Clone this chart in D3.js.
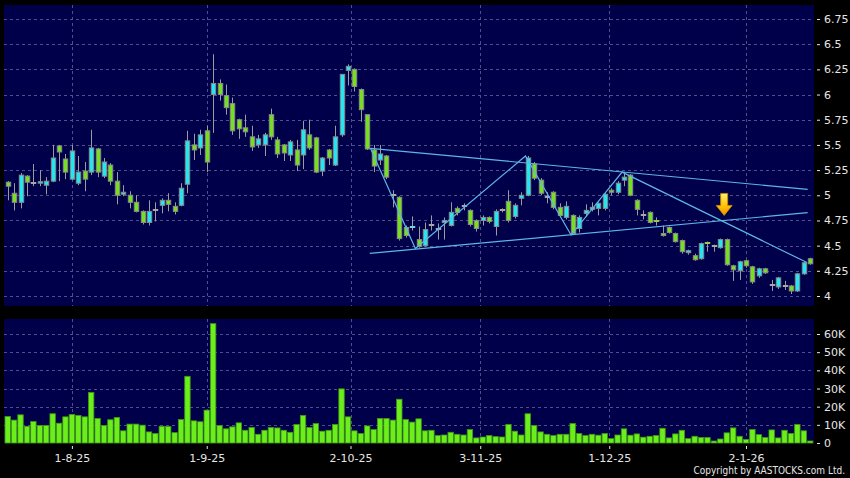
<!DOCTYPE html>
<html><head><meta charset="utf-8">
<script src="https://cdn.jsdelivr.net/npm/d3@7/dist/d3.min.js"></script>
<style>html,body{margin:0;padding:0;background:#000;}svg{display:block;}</style>
</head><body><svg id="c" width="850" height="478"></svg>
<script>
// ---- data ----
const opens  = [5.13,5.02,4.93,5.19,5.12,5.12,5.10,5.14,5.49,5.36,5.16,5.12,5.24,5.23,5.46,5.19,5.30,5.14,5.01,5.00,
 4.93,4.84,4.73,4.85,4.90,4.95,4.89,4.90,5.11,5.50,5.47,5.64,6.00,6.11,5.99,5.91,5.75,5.67,5.58,5.50,
 5.50,5.80,5.55,5.50,5.40,5.45,5.40,5.60,5.57,5.24,5.45,5.30,5.60,6.24,6.25,6.05,5.80,5.45,5.35,5.39,
 5.00,4.98,4.68,4.68,4.56,4.50,4.70,4.67,4.73,4.70,4.87,4.89,4.85,4.75,4.75,4.78,4.69,4.85,4.94,4.79,
 4.97,5.00,5.31,5.15,4.98,5.03,4.88,4.78,4.80,4.67,4.82,4.86,4.87,4.87,5.05,5.03,5.15,5.20,4.95,4.80,
 4.83,4.75,4.62,4.68,4.62,4.55,4.43,4.40,4.37,4.53,4.50,4.48,4.56,4.30,4.25,4.35,4.29,4.20,4.27,4.11,
 4.09,4.10,4.10,4.05,4.22,4.37];
const highs  = [5.14,5.12,5.22,5.20,5.31,5.25,5.18,5.50,5.50,5.41,5.50,5.39,5.33,5.65,5.47,5.37,5.32,5.23,5.10,5.04,
 5.00,4.85,4.95,4.93,4.97,5.02,4.93,5.12,5.64,5.61,5.65,5.69,6.40,6.15,6.10,5.97,5.76,5.80,5.69,5.60,
 5.62,5.86,5.58,5.51,5.55,5.55,5.74,5.75,5.58,5.38,5.46,5.69,6.20,6.30,6.26,6.06,5.80,5.50,5.50,5.40,
 5.05,4.99,4.70,4.79,4.69,4.73,4.80,4.72,4.78,4.93,4.89,4.92,4.86,4.76,4.80,4.79,4.86,4.87,5.05,4.92,
 5.03,5.39,5.33,5.17,5.03,5.04,4.92,4.94,4.81,4.80,4.91,4.93,4.93,5.02,5.07,5.14,5.23,5.21,4.96,4.85,
 4.84,4.78,4.70,4.69,4.63,4.56,4.46,4.42,4.53,4.54,4.51,4.57,4.57,4.31,4.35,4.36,4.30,4.28,4.28,4.16,
 4.19,4.15,4.11,4.23,4.34,4.38];
const lows   = [4.95,4.85,4.87,4.99,5.09,5.09,5.01,5.13,5.14,5.16,5.15,5.10,5.04,5.20,5.18,5.17,5.10,4.91,4.99,4.87,
 4.83,4.71,4.70,4.74,4.82,4.84,4.81,4.89,5.02,5.35,5.40,5.23,5.62,5.94,5.80,5.60,5.56,5.58,5.44,5.47,
 5.39,5.55,5.37,5.34,5.34,5.24,5.26,5.45,5.22,5.19,5.30,5.29,5.58,6.09,6.03,5.73,5.45,5.23,5.30,5.16,
 4.88,4.55,4.58,4.65,4.48,4.49,4.65,4.56,4.56,4.69,4.80,4.85,4.69,4.64,4.70,4.72,4.60,4.83,4.73,4.77,
 4.90,4.99,5.15,5.00,4.92,4.86,4.78,4.76,4.61,4.63,4.79,4.84,4.80,4.85,5.00,5.01,5.09,4.99,4.80,4.76,
 4.72,4.70,4.59,4.62,4.53,4.42,4.41,4.35,4.36,4.44,4.44,4.47,4.30,4.15,4.16,4.28,4.12,4.18,4.22,4.05,
 4.07,4.06,4.02,4.04,4.21,4.31];
const closes = [5.09,4.93,5.20,5.13,5.12,5.135,5.14,5.37,5.43,5.23,5.44,5.23,5.16,5.47,5.23,5.33,5.14,5.00,5.03,4.93,
 4.84,4.73,4.84,4.85,4.95,4.91,4.84,5.07,5.54,5.45,5.60,5.33,6.11,6.00,5.87,5.64,5.66,5.63,5.48,5.56,
 5.60,5.58,5.41,5.42,5.53,5.30,5.65,5.47,5.23,5.37,5.37,5.58,6.20,6.28,6.08,5.85,5.46,5.29,5.41,5.18,
 5.00,4.57,4.60,4.69,4.49,4.66,4.70,4.67,4.75,4.83,4.83,4.89,4.71,4.67,4.78,4.74,4.84,4.85,4.75,4.90,
 5.00,5.37,5.17,5.02,4.98,4.88,4.80,4.89,4.62,4.78,4.85,4.88,4.92,5.01,5.03,5.12,5.18,5.00,4.86,4.80,
 4.73,4.74,4.60,4.63,4.54,4.44,4.45,4.36,4.52,4.52,4.50,4.56,4.31,4.26,4.34,4.30,4.14,4.27,4.23,4.11,
 4.18,4.10,4.05,4.22,4.33,4.32];
const volumes = [14600,12600,15500,9200,11800,9600,9600,16100,10900,14400,15700,15200,14400,27800,13500,9600,12800,14100,6700,10400,
 10400,9800,6100,5200,9200,9100,5700,12900,36700,12200,11700,18100,65700,9600,7800,8900,11100,7000,8500,4800,
 7000,8500,8300,7000,5900,10200,15200,8500,10700,6500,7000,10200,29800,14400,6700,5200,9400,7400,13500,13500,
 12600,24100,12900,11500,13300,6700,7000,4100,4400,5900,4800,4400,7400,2800,3300,4100,3500,3300,10200,6500,
 4400,16100,9600,6100,4800,4100,4800,4800,10700,5200,4100,4800,4300,5200,2400,4400,7800,4300,5000,3200,
 3700,4100,8100,2800,5000,7000,2400,3700,3000,3000,1100,2200,5600,8300,3700,1900,7400,4600,3000,7200,
 2800,7000,5200,10200,6700,1100];
const priceTicks = [4,4.25,4.5,4.75,5,5.25,5.5,5.75,6,6.25,6.5,6.75];
const priceTickLabels = ["4","4.25","4.5","4.75","5","5.25","5.5","5.75","6","6.25","6.5","6.75"];
const volumeTicks = [0,10000,20000,30000,40000,50000,60000];
const volumeTickLabels = ["0","10K","20K","30K","40K","50K","60K"];
const dateTickIndex = [10,31,53.4,73.6,93.7,115];
const dateTickLabels = ["1-8-25","1-9-25","2-10-25","3-11-25","1-12-25","2-1-26"];
// drawn annotations: [candle index, price]
const trendUpper = [[56.5,5.466],[124.6,5.059]];
const trendLower = [[56.4,4.423],[124.6,4.827]];
const zigzag = [[56.5,5.466],[63.5,4.471],[80.65,5.39],[87.75,4.605],[95.7,5.23],[124.5,4.332]];
const arrowTip = [111.6,4.80];

// ---- drawing ----
const svg = d3.select("#c");
const NAVY = "#00004a", GRID = "#4e4e8a", TXT = "#e6e6e6";
const n = closes.length;
const x = d3.scaleLinear().domain([0, n-1]).range([7.7, 810.2]);
const yP = d3.scaleLinear().domain([4, 6.75]).range([296, 19]);
const yV = d3.scaleLinear().domain([0, 60000]).range([443, 334]);

svg.append("rect").attr("width",850).attr("height",478).attr("fill","#000");
svg.append("rect").attr("x",4).attr("y",5).attr("width",810).attr("height",301).attr("fill",NAVY);
svg.append("rect").attr("x",4).attr("y",319).attr("width",810).attr("height",124).attr("fill",NAVY);

const grid = svg.append("g").attr("stroke",GRID).attr("stroke-dasharray","3,3").attr("stroke-width",1);
priceTicks.forEach(v=>{const yy=Math.round(yP(v))+0.5;grid.append("line").attr("x1",4).attr("x2",814).attr("y1",yy).attr("y2",yy);});
volumeTicks.slice(1).forEach(v=>{const yy=Math.round(yV(v))+0.5;grid.append("line").attr("x1",4).attr("x2",814).attr("y1",yy).attr("y2",yy);});
dateTickIndex.forEach(i=>{const xx=Math.round(x(i))+0.5;
  grid.append("line").attr("x1",xx).attr("x2",xx).attr("y1",5).attr("y2",306);
  grid.append("line").attr("x1",xx).attr("x2",xx).attr("y1",319).attr("y2",443);});

// volume bars
svg.append("g").selectAll("rect").data(volumes).join("rect")
  .attr("x",(d,i)=>x(i)-2.7).attr("width",5.4)
  .attr("y",d=>yV(d)).attr("height",d=>yV(0)-yV(d))
  .attr("fill","#6cee1c").attr("stroke","#3e9a12").attr("stroke-width",0.8);

// candles
const cg = svg.append("g");
d3.range(n).forEach(i=>{
  const cx = Math.round(x(i));
  const o=opens[i], c=closes[i];
  cg.append("line").attr("x1",cx+0.5).attr("x2",cx+0.5)
    .attr("y1",yP(highs[i])).attr("y2",yP(lows[i])).attr("stroke","#9c9c9c").attr("stroke-width",1);
  const top = yP(Math.max(o,c)), bot = yP(Math.min(o,c));
  if (bot-top < 1.5) {
    const col = Math.abs(o-c)<0.004 ? "#a8a8a8" : (c>o ? "#6fd8e0" : "#8fce50");
    cg.append("rect").attr("x",cx-2.2).attr("width",5.4).attr("y",Math.round((top+bot)/2)-1).attr("height",2).attr("fill",col);
  } else {
    cg.append("rect").attr("x",cx-1.7).attr("width",4.4)
      .attr("y",top).attr("height",bot-top)
      .attr("fill", c>o ? "#22e6f2" : "#76e01e").attr("stroke","#8a8a8a").attr("stroke-width",1);
  }
});

// annotations
const line = d3.line().x(d=>x(d[0])).y(d=>yP(d[1]));
const ag = svg.append("g").attr("fill","none").attr("stroke","#5cb6e8").attr("stroke-width",1.2);
[trendUpper, trendLower, zigzag].forEach(p=>ag.append("path").attr("d",line(p)));

const defs = svg.append("defs");
const gr = defs.append("linearGradient").attr("id","ag").attr("x1",0).attr("y1",0).attr("x2",0).attr("y2",1);
gr.append("stop").attr("offset","0%").attr("stop-color","#fff070");
gr.append("stop").attr("offset","60%").attr("stop-color","#ffc000");
gr.append("stop").attr("offset","100%").attr("stop-color","#f09000");
const tx = x(arrowTip[0]), ty = yP(arrowTip[1]);
svg.append("path")
  .attr("d",`M${tx-3.5},${ty-22} L${tx+3.5},${ty-22} L${tx+3.5},${ty-10} L${tx+8},${ty-10} L${tx},${ty} L${tx-8},${ty-10} L${tx-3.5},${ty-10} Z`)
  .attr("fill","url(#ag)").attr("stroke","#c88a00").attr("stroke-width",0.8);

// axes
function style(g){
  g.select(".domain").remove();
  g.selectAll(".tick line").attr("stroke",TXT);
  g.selectAll("text").attr("fill",TXT).attr("font-family","'DejaVu Sans', Verdana, sans-serif").attr("font-size","11px");
}
svg.append("g").attr("transform","translate(817,0)")
  .call(d3.axisRight(yP).tickValues(priceTicks).tickFormat((d,i)=>priceTickLabels[i]).tickSize(3).tickPadding(4))
  .call(style);
svg.append("g").attr("transform","translate(817,0)")
  .call(d3.axisRight(yV).tickValues(volumeTicks).tickFormat((d,i)=>volumeTickLabels[i]).tickSize(3).tickPadding(4))
  .call(style);
svg.append("g").attr("transform","translate(0,446)")
  .call(d3.axisBottom(x).tickValues(dateTickIndex).tickFormat((d,i)=>dateTickLabels[i]).tickSize(3).tickPadding(5))
  .call(style);

svg.append("text").attr("x",845).attr("y",474).attr("text-anchor","end")
  .attr("fill",TXT).attr("font-family","'DejaVu Sans Condensed','DejaVu Sans', sans-serif").attr("font-size","10px")
  .text("Copyright by AASTOCKS.com Ltd.");
</script></body></html>
